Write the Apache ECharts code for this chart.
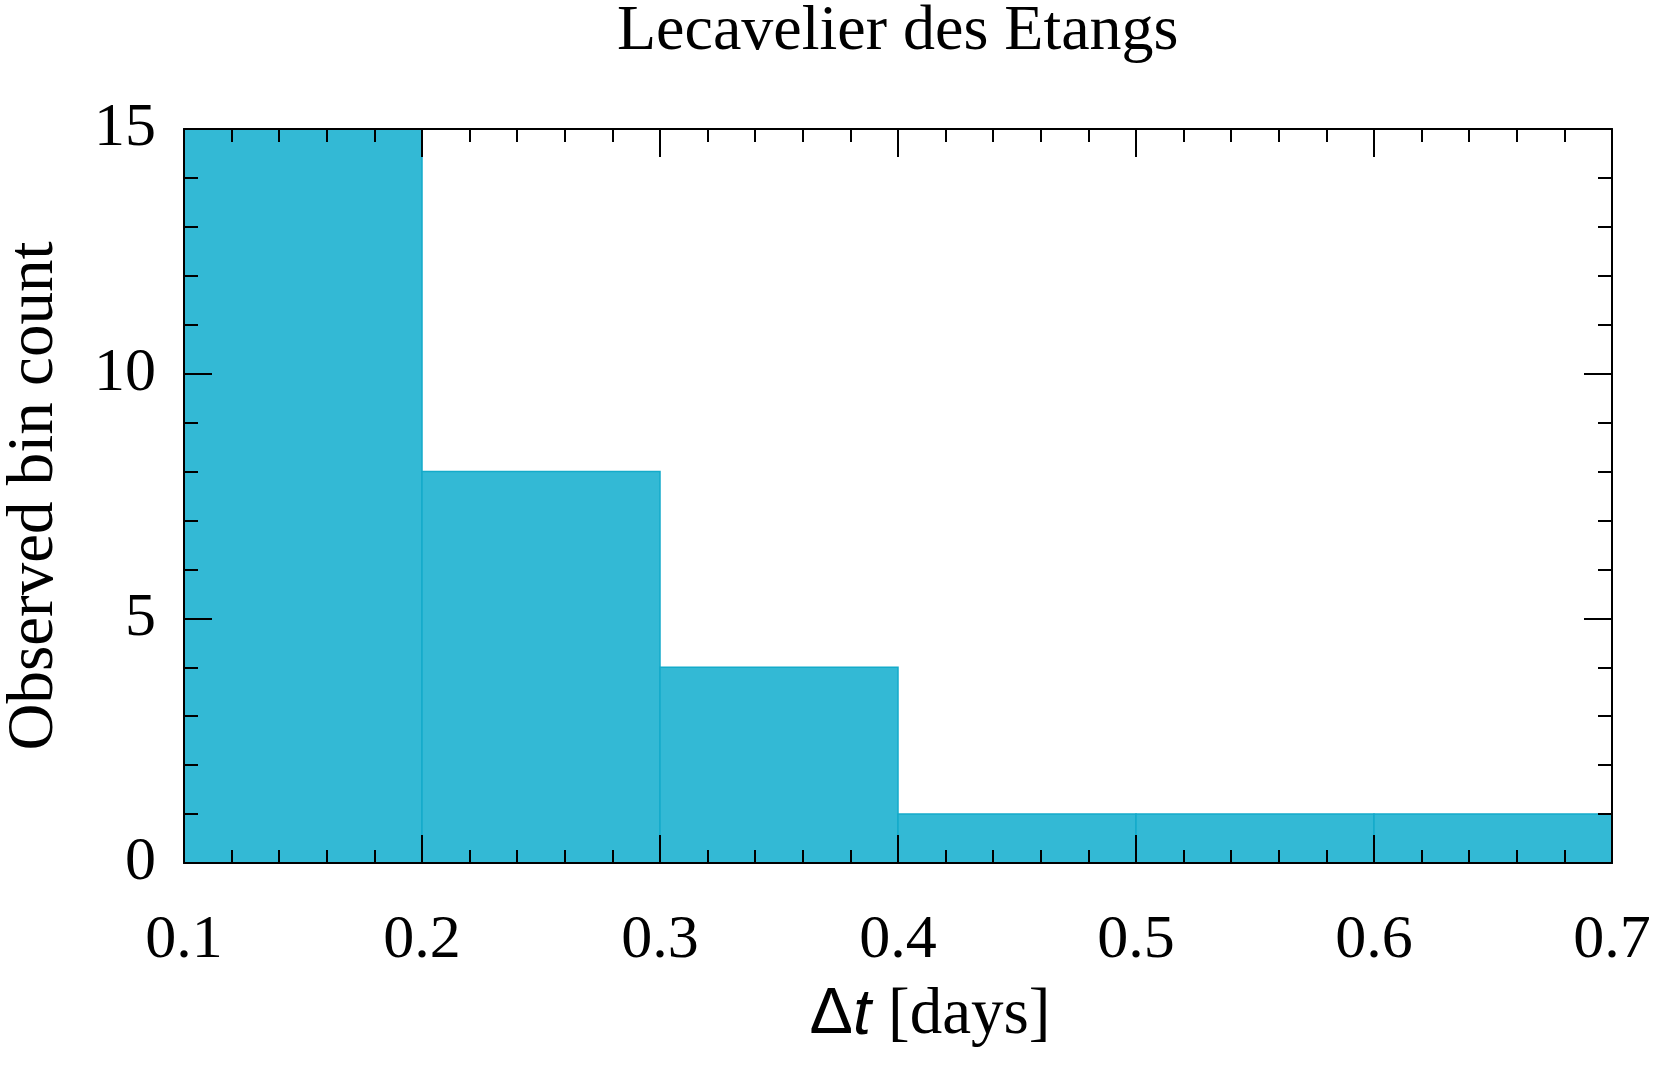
<!DOCTYPE html>
<html>
<head>
<meta charset="utf-8">
<script src="https://cdn.jsdelivr.net/npm/echarts@6/dist/echarts.min.js"></script>
<style>
    html, body { margin: 0; padding: 0; background: #fff; }
    #chart { width: 1662px; height: 1068px; }
</style>
</head>
<body>
<div id="chart"></div>
<script>
    // bin edges (days) and counts
    const binStarts = [0.1, 0.2, 0.3, 0.4, 0.5, 0.6];
    const binEnds = [0.2, 0.3, 0.4, 0.5, 0.6, 0.7];
    const counts = [15, 8, 4, 1, 1, 1];

    const serif = 'Liberation Serif';
    const black = '#000';

    const bins = binStarts.map((s, i) => [s, binEnds[i], counts[i]]);

    const axisLine = { show: true, onZero: false, lineStyle: { color: black, width: 2 } };

    function xAxisCfg(pos, labels) {
        return {
            type: 'value',
            position: pos,
            min: 0.1,
            max: 0.7,
            interval: 0.1,
            z: 10,
            axisLine: axisLine,
            axisTick: { show: true, inside: true, length: 28, lineStyle: { color: black, width: 2 } },
            minorTick: { show: true, splitNumber: 5, length: 13, lineStyle: { color: black, width: 2 } },
            splitLine: { show: false },
            axisLabel: {
                show: labels,
                margin: 47,
                fontFamily: serif,
                fontSize: 62,
                color: black,
                formatter: v => v.toFixed(1)
            }
        };
    }

    function yAxisCfg(pos, labels) {
        return {
            type: 'value',
            position: pos,
            min: 0,
            max: 15,
            interval: 5,
            z: 10,
            axisLine: axisLine,
            axisTick: { show: true, inside: true, length: 28, lineStyle: { color: black, width: 2 } },
            minorTick: { show: true, splitNumber: 5, length: 14, lineStyle: { color: black, width: 2 } },
            splitLine: { show: false },
            axisLabel: {
                show: labels,
                margin: 28,
                fontFamily: serif,
                fontSize: 62,
                color: black
            }
        };
    }

    const chart = echarts.init(document.getElementById('chart'));

    const x0 = xAxisCfg('bottom', true);
    x0.name = '{a|Δ}{b|t}{c|[days]}';
    x0.nameLocation = 'middle';
    x0.nameGap = 120;
    x0.nameTextStyle = {
        rich: {
            a: { fontFamily: 'Liberation Sans', fontSize: 65, color: black, padding: [0, 0, 0, 64] },
            b: { fontFamily: 'Liberation Sans', fontStyle: 'italic', fontSize: 65, color: black, padding: [0, 17, 0, 0] },
            c: { fontFamily: serif, fontSize: 65, color: black }
        }
    };

    const y0 = yAxisCfg('left', true);
    y0.name = 'Observed bin count';
    y0.nameLocation = 'middle';
    y0.nameGap = 117;
    y0.nameTextStyle = { fontFamily: serif, fontSize: 65, color: black };

    chart.setOption({
        animation: false,
        backgroundColor: '#fff',
        title: {
            text: 'Lecavelier des Etangs',
            left: 612,
            top: -5,
            textStyle: { fontFamily: serif, fontSize: 64, fontWeight: 'normal', color: black }
        },
        grid: { left: 184, right: 50, top: 129, bottom: 205, outerBoundsMode: 'none' },
        xAxis: [x0, xAxisCfg('top', false)],
        yAxis: [y0, yAxisCfg('right', false)],
        series: [{
            type: 'custom',
            xAxisIndex: 0,
            yAxisIndex: 0,
            data: bins,
            encode: { x: [0, 1], y: 2 },
            renderItem: function (params, api) {
                const p0 = api.coord([api.value(0), 0]);
                const p1 = api.coord([api.value(1), api.value(2)]);
                return {
                    type: 'rect',
                    shape: { x: p0[0], y: p1[1], width: p1[0] - p0[0], height: p0[1] - p1[1] },
                    style: { fill: '#33b9d5', stroke: '#14abca', lineWidth: 1.5 }
                };
            }
        }]
    });
</script>
</body>
</html>
